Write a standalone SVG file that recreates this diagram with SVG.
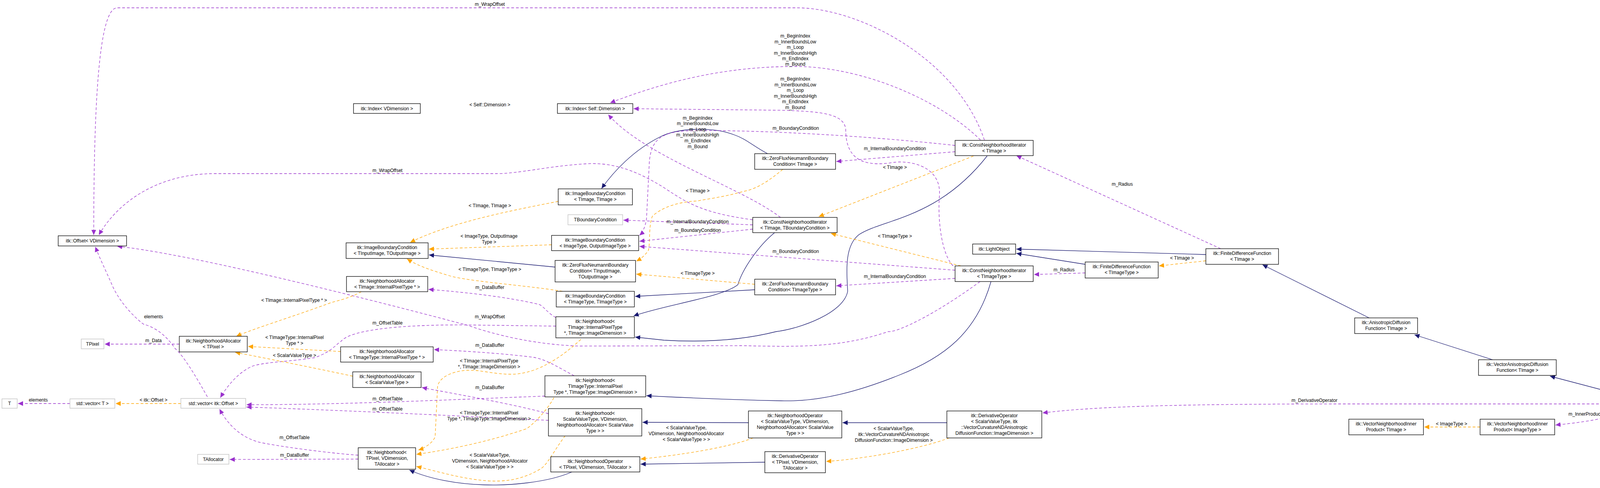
<svg xmlns="http://www.w3.org/2000/svg" width="4359" height="1248" viewBox="0 0 4359 1248">
<style>
text{font-family:"Liberation Sans",Arial,sans-serif;font-size:12px;fill:#000;text-anchor:middle}
.n rect{fill:#fff;stroke:#000;stroke-width:1.3}
.g rect{fill:#fff;stroke:#bfbfbf;stroke-width:1.3}
.h rect{fill:#bfbfbf;stroke:#000;stroke-width:1.3}
.e path{fill:none;stroke-width:1.3}
.u{stroke:#9a32cd;stroke-dasharray:7,5;marker-end:url(#mu)}
.t{stroke:#ffa500;stroke-dasharray:7,5;marker-end:url(#mt)}
.i{stroke:#191970;marker-end:url(#mi)}
</style>
<defs>
<marker id="mu" markerUnits="userSpaceOnUse" markerWidth="14" markerHeight="12" refX="13" refY="6" orient="auto"><path d="M0,0 L13,6 L0,12 z" fill="#9a32cd"/></marker>
<marker id="mt" markerUnits="userSpaceOnUse" markerWidth="14" markerHeight="12" refX="13" refY="6" orient="auto"><path d="M0,0 L13,6 L0,12 z" fill="#ffa500"/></marker>
<marker id="mi" markerUnits="userSpaceOnUse" markerWidth="14" markerHeight="12" refX="13" refY="6" orient="auto"><path d="M0,0 L13,6 L0,12 z" fill="#191970"/></marker>
</defs>
<rect width="4359" height="1248" fill="#fff"/>
<g id="edges" class="e">
<path class="u" d="M2520,358 C2450,150 2200,20 2040,20 L300,20 C250,20 240,300 240,601"/>
<path class="u" d="M1927,562 C1800,545 1760,520 1700,480 C1620,430 1560,415 1499,419 C1400,425 1330,444 1270,444 L550,444 C400,444 300,520 253,601"/>
<path class="u" d="M2510,358 C2400,250 2200,170 2036,170 C1850,170 1700,210 1562,263"/>
<path class="u" d="M2440,680 C2410,650 2400,560 2405,500 C2410,430 2340,410 2290,415 C2200,430 2165,400 2165,330 C2160,290 2100,285 2000,282 L1622,278"/>
<path class="u" d="M1998,556 C1900,480 1650,400 1557,293"/>
<path class="i" d="M1965,393 C1930,375 1910,355 1880,345 C1830,325 1740,325 1690,350 C1620,385 1570,440 1540,482"/>
<path class="u" d="M2445,388 L2141,413"/>
<path class="u" d="M2445,372 C2200,345 1900,330 1750,335 C1690,340 1665,360 1662,420 L1655,560 C1652,580 1645,595 1637,602"/>
<path class="t" d="M2492,399 L2096,554"/>
<path class="i" d="M2527,399 C2400,560 2260,560 2199,600 C2160,630 2168,700 2170,745 C2160,800 2050,840 1987,848 C1900,870 1800,876 1700,870 L1626,862"/>
<path class="i" d="M1983,595 C1940,630 1900,690 1889,728 C1850,760 1700,780 1622,808"/>
<path class="i" d="M1932,741 L1626,758"/>
<path class="i" d="M2537,720 C2500,850 2418,914 2300,960 C2200,1000 2100,1028 2000,1025 C1850,1022 1750,1017 1655,1012"/>
<path class="u" d="M2445,712 L2141,731"/>
<path class="u" d="M2445,691 L1637,630"/>
<path class="t" d="M2460,680 L2127,597"/>
<path class="u" d="M2509,720 C2400,800 2300,850 2274,848 C2150,890 2044,887 1900,884 L1481,885 C1350,880 1250,850 1194,831 C1000,780 500,650 300,630"/>
<path class="u" d="M2778,698 L2647,702"/>
<path class="u" d="M3125,636 L2602,398"/>
<path class="i" d="M2778,676 L2602,648"/>
<path class="i" d="M3087,651 L2602,637"/>
<path class="t" d="M3087,667 L2967,680"/>
<path class="i" d="M3505,813 L3232,677"/>
<path class="i" d="M3821,920 L3621,856"/>
<path class="i" d="M4162,1013 L3968,962"/>
<path class="u" d="M4129,1033 L3450,1033 C3000,1033 2800,1040 2669,1056"/>
<path class="u" d="M4160,1053 C4100,1075 4030,1082 3982,1087"/>
<path class="t" d="M3789,1092 L3646,1092"/>
<path class="i" d="M2424,1081 L2157,1081"/>
<path class="t" d="M2430,1120 C2350,1150 2200,1175 2115,1180"/>
<path class="i" d="M1958,1182 L1640,1187"/>
<path class="i" d="M1916,1081 L1645,1080"/>
<path class="t" d="M1928,1120 C1850,1150 1700,1168 1640,1174"/>
<path class="i" d="M1464,1207 C1400,1235 1300,1242 1240,1240 C1170,1238 1100,1225 1048,1202"/>
<path class="t" d="M1447,1114 C1420,1150 1400,1190 1384,1199 C1340,1225 1300,1232 1252,1230 C1180,1225 1120,1205 1066,1193"/>
<path class="t" d="M1418,1017 C1400,1050 1370,1080 1349,1096 C1250,1130 1150,1150 1066,1162"/>
<path class="t" d="M1487,868 C1420,930 1360,957 1309,957 C1260,957 1230,945 1194,947 C1150,950 1120,970 1120,992 L1114,1116 C1110,1130 1090,1145 1071,1151"/>
<path class="u" d="M1423,812 C1400,800 1390,780 1378,778 C1300,760 1200,748 1097,740"/>
<path class="u" d="M1423,834 L1194,831 C1050,830 900,840 873,873 C860,880 850,900 804,915 C740,925 689,925 650,935 C610,950 580,990 564,1017"/>
<path class="u" d="M1470,961 C1430,940 1400,920 1367,914 C1300,905 1200,898 1111,894"/>
<path class="u" d="M1395,1013 C1200,1020 900,1035 631,1035"/>
<path class="u" d="M1404,1075 C1200,1065 900,1050 631,1041"/>
<path class="u" d="M1404,1058 C1300,1030 1150,1005 1080,991"/>
<path class="u" d="M917,1164 C850,1160 700,1140 660,1130 C610,1115 580,1080 562,1046"/>
<path class="u" d="M917,1174 L588,1175"/>
<path class="u" d="M531,1015 C500,960 470,910 448,891 C420,850 390,835 367,829 C330,800 300,760 287,729 C270,690 255,660 244,631"/>
<path class="t" d="M463,1032 L296,1032"/>
<path class="u" d="M179,1032 L46,1032"/>
<path class="u" d="M459,880 L268,880"/>
<path class="t" d="M925,746 C900,760 870,768 850,773 C750,810 650,840 605,860"/>
<path class="t" d="M872,899 L635,886"/>
<path class="t" d="M903,962 C800,940 700,920 602,901"/>
<path class="t" d="M1412,626 L1098,637"/>
<path class="t" d="M1429,515 C1300,540 1150,570 1050,620"/>
<path class="t" d="M1440,745 C1350,730 1200,720 1150,705 C1100,690 1070,680 1042,662"/>
<path class="i" d="M1421,683 L1098,652"/>
<path class="t" d="M2004,433 C1960,470 1930,485 1901,490 C1850,505 1800,510 1786,514 C1750,515 1700,525 1670,553 C1660,580 1665,617 1660,640 C1650,655 1640,662 1629,668"/>
<path class="t" d="M1932,727 L1629,701"/>
<path class="u" d="M1927,575 L1596,563"/>
<path class="u" d="M1927,586 L1637,617"/>
</g>
<g id="labels">
<text x="1254" y="15">m_WrapOffset</text>
<text x="992" y="440">m_WrapOffset</text>
<text x="1254" y="272">&lt; Self::Dimension &gt;</text>
<text x="2036" y="96">m_BeginIndex</text><text x="2036" y="111">m_InnerBoundsLow</text><text x="2036" y="125">m_Loop</text><text x="2036" y="140">m_InnerBoundsHigh</text><text x="2036" y="154">m_EndIndex</text><text x="2036" y="168">m_Bound</text>
<text x="2036" y="206">m_BeginIndex</text><text x="2036" y="221">m_InnerBoundsLow</text><text x="2036" y="235">m_Loop</text><text x="2036" y="250">m_InnerBoundsHigh</text><text x="2036" y="264">m_EndIndex</text><text x="2036" y="279">m_Bound</text>
<text x="1786" y="306">m_BeginIndex</text><text x="1786" y="320">m_InnerBoundsLow</text><text x="1786" y="335">m_Loop</text><text x="1786" y="349">m_InnerBoundsHigh</text><text x="1786" y="364">m_EndIndex</text><text x="1786" y="379">m_Bound</text>
<text x="2037" y="332">m_BoundaryCondition</text>
<text x="2291" y="384">m_InternalBoundaryCondition</text>
<text x="2291" y="432">&lt; TImage &gt;</text>
<text x="1786" y="492">&lt; TImage &gt;</text>
<text x="1254" y="530">&lt; TImage, TImage &gt;</text>
<text x="1786" y="571">m_InternalBoundaryCondition</text>
<text x="1786" y="593">m_BoundaryCondition</text>
<text x="2291" y="608">&lt; TImageType &gt;</text>
<text x="2037" y="647">m_BoundaryCondition</text>
<text x="1786" y="703">&lt; TImageType &gt;</text>
<text x="2291" y="711">m_InternalBoundaryCondition</text>
<text x="1252" y="608">&lt; ImageType, OutputImage</text><text x="1252" y="623">Type &gt;</text>
<text x="1254" y="693">&lt; TImageType, TImageType &gt;</text>
<text x="1254" y="739">m_DataBuffer</text>
<text x="1254" y="814">m_WrapOffset</text>
<text x="992" y="830">m_OffsetTable</text>
<text x="1254" y="887">m_DataBuffer</text>
<text x="1252" y="927">&lt; TImage::InternalPixelType</text><text x="1252" y="942">*, TImage::ImageDimension &gt;</text>
<text x="1254" y="995">m_DataBuffer</text>
<text x="992" y="1024">m_OffsetTable</text>
<text x="992" y="1050">m_OffsetTable</text>
<text x="1252" y="1060">&lt; TImageType::InternalPixel</text><text x="1252" y="1075">Type *, TImageType::ImageDimension &gt;</text>
<text x="1254" y="1168">&lt; ScalarValueType,</text><text x="1254" y="1183">VDimension, NeighborhoodAllocator</text><text x="1254" y="1198">&lt; ScalarValueType &gt; &gt;</text>
<text x="1757" y="1098">&lt; ScalarValueType,</text><text x="1757" y="1113">VDimension, NeighborhoodAllocator</text><text x="1757" y="1128">&lt; ScalarValueType &gt; &gt;</text>
<text x="2288" y="1100">&lt; ScalarValueType,</text><text x="2288" y="1115">itk::VectorCurvatureNDAnisotropic</text><text x="2288" y="1130">DiffusionFunction::ImageDimension &gt;</text>
<text x="2873" y="475">m_Radius</text>
<text x="3026" y="664">&lt; TImage &gt;</text>
<text x="2724" y="694">m_Radius</text>
<text x="3365" y="1028">m_DerivativeOperator</text>
<text x="4058" y="1063">m_InnerProduct</text>
<text x="3716" y="1088">&lt; ImageType &gt;</text>
<text x="393" y="814">elements</text>
<text x="393" y="875">m_Data</text>
<text x="98" y="1027">elements</text>
<text x="393" y="1027">&lt; itk::Offset &gt;</text>
<text x="753" y="772">&lt; TImage::InternalPixelType * &gt;</text>
<text x="754" y="867">&lt; TImageType::InternalPixel</text><text x="754" y="882">Type * &gt;</text>
<text x="754" y="913">&lt; ScalarValueType &gt;</text>
<text x="754" y="1123">m_OffsetTable</text>
<text x="754" y="1168">m_DataBuffer</text>
</g>
<g id="n1" class="n"><rect x="149" y="603" width="175" height="26"/><text x="236.5" y="620">itk::Offset&lt; VDimension &gt;</text></g>
<g id="n2" class="g"><rect x="208" y="867" width="58" height="25"/><text x="237" y="884">TPixel</text></g>
<g id="n3" class="n"><rect x="459" y="860" width="174" height="40"/><text x="546" y="876">itk::NeighborhoodAllocator</text><text x="546" y="891">&lt; TPixel &gt;</text></g>
<g id="n4" class="g"><rect x="5" y="1020" width="39" height="24"/><text x="24.5" y="1036">T</text></g>
<g id="n5" class="g"><rect x="179" y="1020" width="115" height="24"/><text x="236.5" y="1036">std::vector&lt; T &gt;</text></g>
<g id="n6" class="g"><rect x="463" y="1019" width="166" height="25"/><text x="546" y="1036">std::vector&lt; itk::Offset &gt;</text></g>
<g id="n7" class="g"><rect x="506" y="1162" width="80" height="25"/><text x="546" y="1179">TAllocator</text></g>
<g id="n8" class="n"><rect x="886" y="621" width="210" height="40"/><text x="991" y="637">itk::ImageBoundaryCondition</text><text x="991" y="652">&lt; TInputImage, TOutputImage &gt;</text></g>
<g id="n9" class="n"><rect x="1412" y="602" width="223" height="39"/><text x="1523.5" y="618">itk::ImageBoundaryCondition</text><text x="1523.5" y="633">&lt; ImageType, OutputImageType &gt;</text></g>
<g id="n10" class="n"><rect x="1421" y="666" width="206" height="55"/><text x="1524" y="682">itk::ZeroFluxNeumannBoundary</text><text x="1524" y="697">Condition&lt; TInputImage,</text><text x="1524" y="712">TOutputImage &gt;</text></g>
<g id="n11" class="n"><rect x="887" y="707" width="208" height="39"/><text x="991" y="723">itk::NeighborhoodAllocator</text><text x="991" y="738">&lt; TImage::InternalPixelType * &gt;</text></g>
<g id="n12" class="n"><rect x="1424" y="745" width="200" height="40"/><text x="1524" y="761">itk::ImageBoundaryCondition</text><text x="1524" y="776">&lt; TImageType, TImageType &gt;</text></g>
<g id="n13" class="n"><rect x="1423" y="810" width="201" height="54"/><text x="1523.5" y="826">itk::Neighborhood&lt;</text><text x="1523.5" y="841">TImage::InternalPixelType</text><text x="1523.5" y="856">*, TImage::ImageDimension &gt;</text></g>
<g id="n14" class="n"><rect x="872" y="887" width="237" height="39"/><text x="990.5" y="903">itk::NeighborhoodAllocator</text><text x="990.5" y="918">&lt; TImageType::InternalPixelType * &gt;</text></g>
<g id="n15" class="n"><rect x="903" y="951" width="175" height="40"/><text x="990.5" y="967">itk::NeighborhoodAllocator</text><text x="990.5" y="982">&lt; ScalarValueType &gt;</text></g>
<g id="n16" class="n"><rect x="1395" y="961" width="258" height="54"/><text x="1524" y="977">itk::Neighborhood&lt;</text><text x="1524" y="992">TImageType::InternalPixel</text><text x="1524" y="1007">Type *, TImageType::ImageDimension &gt;</text></g>
<g id="n17" class="n"><rect x="1404" y="1045" width="239" height="70"/><text x="1523.5" y="1061">itk::Neighborhood&lt;</text><text x="1523.5" y="1076">ScalarValueType, VDimension,</text><text x="1523.5" y="1091">NeighborhoodAllocator&lt; ScalarValue</text><text x="1523.5" y="1106">Type &gt; &gt;</text></g>
<g id="n18" class="n"><rect x="917" y="1145" width="147" height="55"/><text x="990.5" y="1161">itk::Neighborhood&lt;</text><text x="990.5" y="1176">TPixel, VDimension,</text><text x="990.5" y="1191">TAllocator &gt;</text></g>
<g id="n19" class="n"><rect x="1410" y="1168" width="228" height="39"/><text x="1524" y="1184">itk::NeighborhoodOperator</text><text x="1524" y="1199">&lt; TPixel, VDimension, TAllocator &gt;</text></g>
<g id="n20" class="n"><rect x="905" y="265" width="171" height="25"/><text x="990.5" y="282">itk::Index&lt; VDimension &gt;</text></g>
<g id="n21" class="n"><rect x="1427" y="265" width="193" height="25"/><text x="1523.5" y="282">itk::Index&lt; Self::Dimension &gt;</text></g>
<g id="n22" class="n"><rect x="1429" y="483" width="190" height="41"/><text x="1524" y="499">itk::ImageBoundaryCondition</text><text x="1524" y="514">&lt; TImage, TImage &gt;</text></g>
<g id="n23" class="g"><rect x="1454" y="549" width="140" height="26"/><text x="1524" y="566">TBoundaryCondition</text></g>
<g id="n24" class="n"><rect x="1932" y="393" width="207" height="40"/><text x="2035.5" y="409">itk::ZeroFluxNeumannBoundary</text><text x="2035.5" y="424">Condition&lt; TImage &gt;</text></g>
<g id="n25" class="n"><rect x="1927" y="556" width="216" height="39"/><text x="2035" y="572">itk::ConstNeighborhoodIterator</text><text x="2035" y="587">&lt; TImage, TBoundaryCondition &gt;</text></g>
<g id="n26" class="n"><rect x="2445" y="359" width="200" height="39"/><text x="2545" y="375">itk::ConstNeighborhoodIterator</text><text x="2545" y="390">&lt; TImage &gt;</text></g>
<g id="n27" class="n"><rect x="2490" y="624" width="110" height="26"/><text x="2545" y="641">itk::LightObject</text></g>
<g id="n28" class="n"><rect x="2445" y="680" width="200" height="40"/><text x="2545" y="696">itk::ConstNeighborhoodIterator</text><text x="2545" y="711">&lt; TImageType &gt;</text></g>
<g id="n29" class="n"><rect x="1932" y="714" width="207" height="40"/><text x="2035.5" y="730">itk::ZeroFluxNeumannBoundary</text><text x="2035.5" y="745">Condition&lt; TImageType &gt;</text></g>
<g id="n30" class="n"><rect x="1916" y="1051" width="239" height="69"/><text x="2035.5" y="1067">itk::NeighborhoodOperator</text><text x="2035.5" y="1082">&lt; ScalarValueType, VDimension,</text><text x="2035.5" y="1097">NeighborhoodAllocator&lt; ScalarValue</text><text x="2035.5" y="1112">Type &gt; &gt;</text></g>
<g id="n31" class="n"><rect x="1958" y="1155" width="155" height="54"/><text x="2035.5" y="1171">itk::DerivativeOperator</text><text x="2035.5" y="1186">&lt; TPixel, VDimension,</text><text x="2035.5" y="1201">TAllocator &gt;</text></g>
<g id="n32" class="n"><rect x="2424" y="1051" width="243" height="69"/><text x="2545.5" y="1067">itk::DerivativeOperator</text><text x="2545.5" y="1082">&lt; ScalarValueType, itk</text><text x="2545.5" y="1097">::VectorCurvatureNDAnisotropic</text><text x="2545.5" y="1112">DiffusionFunction::ImageDimension &gt;</text></g>
<g id="n33" class="n"><rect x="3087" y="636" width="186" height="40"/><text x="3180" y="652">itk::FiniteDifferenceFunction</text><text x="3180" y="667">&lt; TImage &gt;</text></g>
<g id="n34" class="n"><rect x="2778" y="670" width="187" height="41"/><text x="2871.5" y="686">itk::FiniteDifferenceFunction</text><text x="2871.5" y="701">&lt; TImageType &gt;</text></g>
<g id="n35" class="n"><rect x="3468" y="813" width="161" height="40"/><text x="3548.5" y="829">itk::AnisotropicDiffusion</text><text x="3548.5" y="844">Function&lt; TImage &gt;</text></g>
<g id="n36" class="n"><rect x="3785" y="920" width="199" height="40"/><text x="3884.5" y="936">itk::VectorAnisotropicDiffusion</text><text x="3884.5" y="951">Function&lt; TImage &gt;</text></g>
<g id="n37" class="h"><rect x="4129" y="1013" width="225" height="40"/><text x="4241.5" y="1029">itk::VectorCurvatureNDAnisotropic</text><text x="4241.5" y="1044">DiffusionFunction&lt; TImage &gt;</text></g>
<g id="n38" class="n"><rect x="3789" y="1072" width="191" height="40"/><text x="3884.5" y="1088">itk::VectorNeighborhoodInner</text><text x="3884.5" y="1103">Product&lt; ImageType &gt;</text></g>
<g id="n39" class="n"><rect x="3453" y="1072" width="191" height="40"/><text x="3548.5" y="1088">itk::VectorNeighborhoodInner</text><text x="3548.5" y="1103">Product&lt; TImage &gt;</text></g>
</svg>
